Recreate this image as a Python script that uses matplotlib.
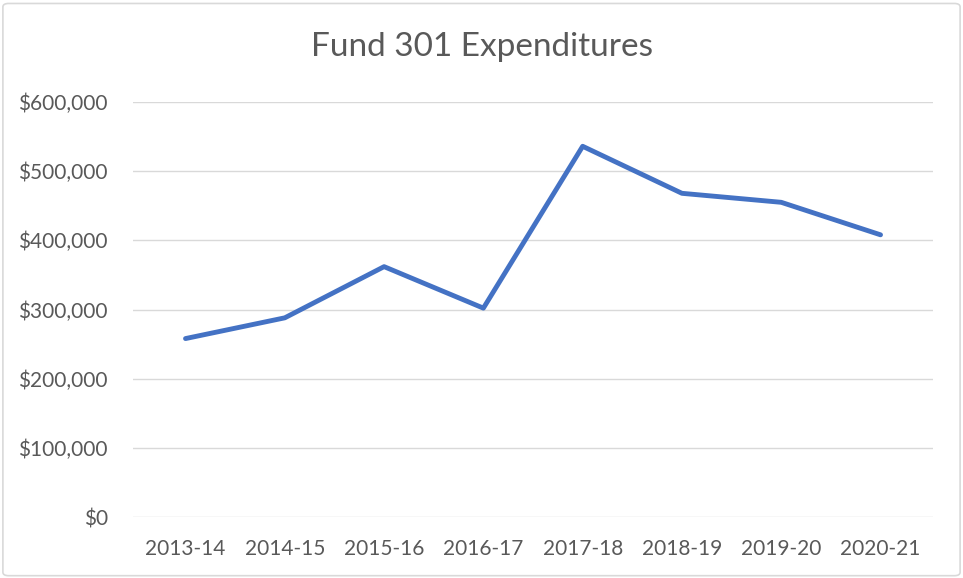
import matplotlib
matplotlib.use("Agg")
import matplotlib.pyplot as plt
from matplotlib.ticker import FuncFormatter
from matplotlib.patches import FancyBboxPatch

plt.rcParams['font.family'] = ['Lato', 'DejaVu Sans']

years = ["2013-14", "2014-15", "2015-16", "2016-17", "2017-18", "2018-19", "2019-20", "2020-21"]
expenditures = [258000, 288000, 362000, 302000, 536000, 468000, 455000, 408000]

fig = plt.figure(figsize=(9.63, 5.78), dpi=100)

# outer chart border
border = FancyBboxPatch((0.003, 0.004), 0.994, 0.99, boxstyle="round,pad=0,rounding_size=0.006",
                        transform=fig.transFigure, facecolor="none", edgecolor="#D9D9D9",
                        linewidth=1.2, zorder=-1)
fig.patches.append(border)

ax = fig.add_axes([0.138, 0.1055, 0.831, 0.718])
ax.set_facecolor("none")

x = list(range(len(years)))
ax.plot(x, expenditures, color="#4472C4", linewidth=3.5, solid_joinstyle="round", solid_capstyle="round", zorder=3)

ax.set_xlim(-0.53, len(years) - 0.47)
ax.set_ylim(0, 600000)
ax.set_yticks(range(0, 600001, 100000))
ax.yaxis.set_major_formatter(FuncFormatter(lambda v, p: "${:,.0f}".format(v)))
ax.set_xticks(x)
ax.set_xticklabels(years)

ax.grid(axis="y", color="#D9D9D9", linewidth=1.0)
ax.set_axisbelow(True)
for s in ax.spines.values():
    s.set_visible(False)
ax.tick_params(axis="both", length=0, labelsize=15, colors="#595959")
ax.tick_params(axis="x", pad=16)
ax.tick_params(axis="y", pad=18)

fig.text(0.5, 0.918, "Fund 301 Expenditures", ha="center", va="center", fontsize=24, color="#595959")

fig.savefig("out.png", dpi=100)
